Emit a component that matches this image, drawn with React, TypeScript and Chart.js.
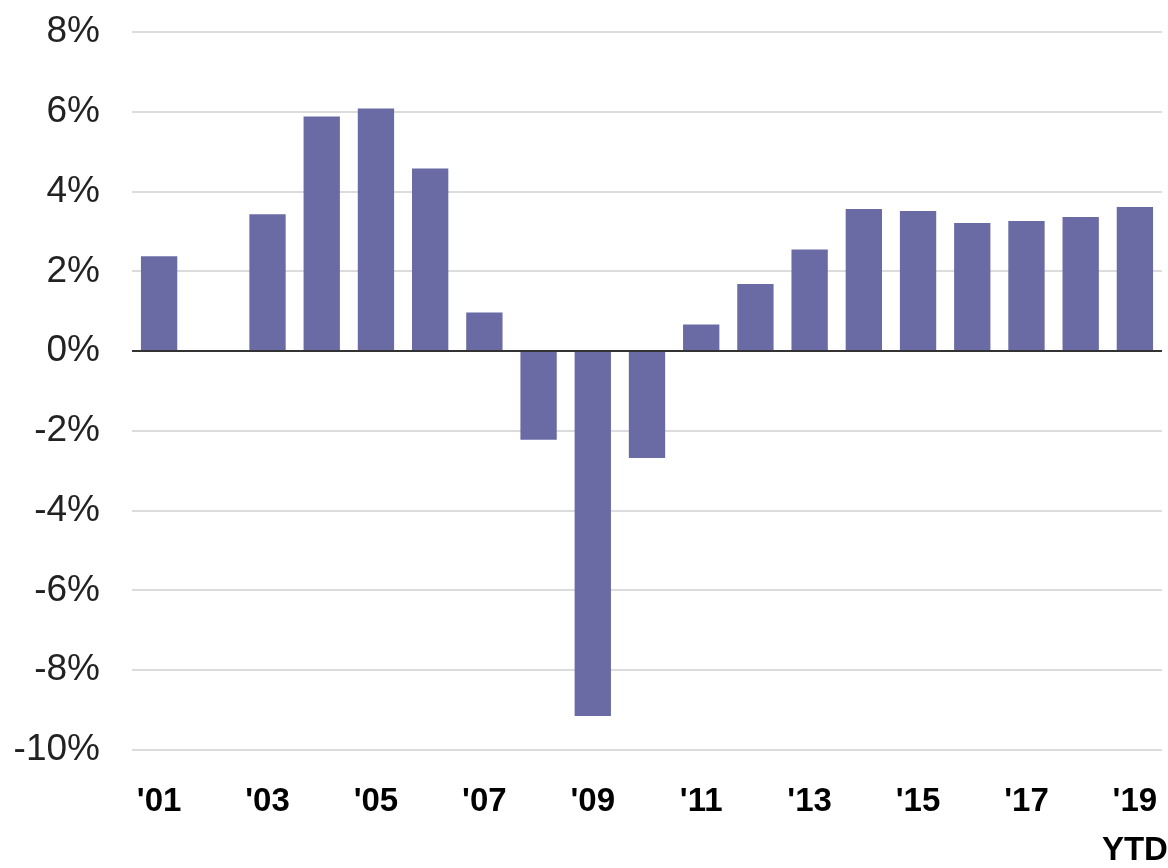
import React, { useEffect, useRef } from "react";
import { Chart, registerables } from "chart.js";

Chart.register(...registerables);

const categories = [
  "'01", "'02", "'03", "'04", "'05", "'06", "'07", "'08", "'09", "'10",
  "'11", "'12", "'13", "'14", "'15", "'16", "'17", "'18", "'19",
];
const growthValues = [
  2.38, 0, 3.43, 5.88, 6.08, 4.58, 0.97, -2.22, -9.15, -2.68,
  0.67, 1.68, 2.55, 3.56, 3.51, 3.21, 3.26, 3.36, 3.61,
];
const lastLabelSuffix = "YTD";
const yMin = -10;
const yMax = 8;
const yStep = 2;

const barColor = "#6a6aa5";

export default function App() {
  const canvasRef = useRef<HTMLCanvasElement | null>(null);

  useEffect(() => {
    document.body.style.margin = "0";
    const canvas = canvasRef.current;
    if (!canvas) return;
    const chart = new Chart(canvas, {
      type: "bar",
      data: {
        labels: categories,
        datasets: [
          {
            data: growthValues,
            backgroundColor: barColor,
            borderWidth: 0,
            barPercentage: 0.67,
            categoryPercentage: 1,
          },
        ],
      },
      options: {
        animation: false,
        responsive: false,
        maintainAspectRatio: false,
        layout: { padding: { top: 0, right: 0, bottom: 0, left: 0 } },
        plugins: {
          legend: { display: false },
          tooltip: { enabled: false },
        },
        scales: {
          x: {
            grid: { display: false, drawTicks: false },
            border: { display: false },
            afterFit: (s: any) => {
              s.height = 118;
              s.paddingLeft = 0;
              s.paddingRight = 6;
            },
            ticks: {
              autoSkip: false,
              maxRotation: 0,
              minRotation: 0,
              padding: 27,
              color: "#000",
              font: {
                family: "'Liberation Sans Narrow', 'Arial Narrow', 'Liberation Sans', Arial, sans-serif",
                size: 33,
                weight: "bold",
                lineHeight: 1.5,
              },
              callback: (_v: any, i: number) => {
                if (i % 2 !== 0) return "";
                const lab = categories[i];
                if (i === categories.length - 1) return [lab, lastLabelSuffix];
                return lab;
              },
            },
          },
          y: {
            min: yMin,
            max: yMax,
            border: { display: false },
            afterFit: (s: any) => {
              s.width = 132;
              s.paddingTop = 32;
              s.paddingBottom = 0;
            },
            grid: {
              drawTicks: false,
              color: (ctx: any) => (ctx.tick && ctx.tick.value === 0 ? "#333333" : "#dcdcdc"),
              lineWidth: 2,
            },
            ticks: {
              stepSize: yStep,
              padding: 32,
              color: "#222",
              font: {
                family: "'Liberation Sans', Arial, sans-serif",
                size: 37,
              },
              callback: (v: any) => `${v}%`,
            },
          },
        },
      },
    });
    return () => chart.destroy();
  }, []);

  return (
    <div style={{ position: "absolute", left: 0, top: 0, width: 1168, height: 868, background: "#fff" }}>
      <canvas ref={canvasRef} width={1168} height={868} style={{ display: "block" }} />
    </div>
  );
}
